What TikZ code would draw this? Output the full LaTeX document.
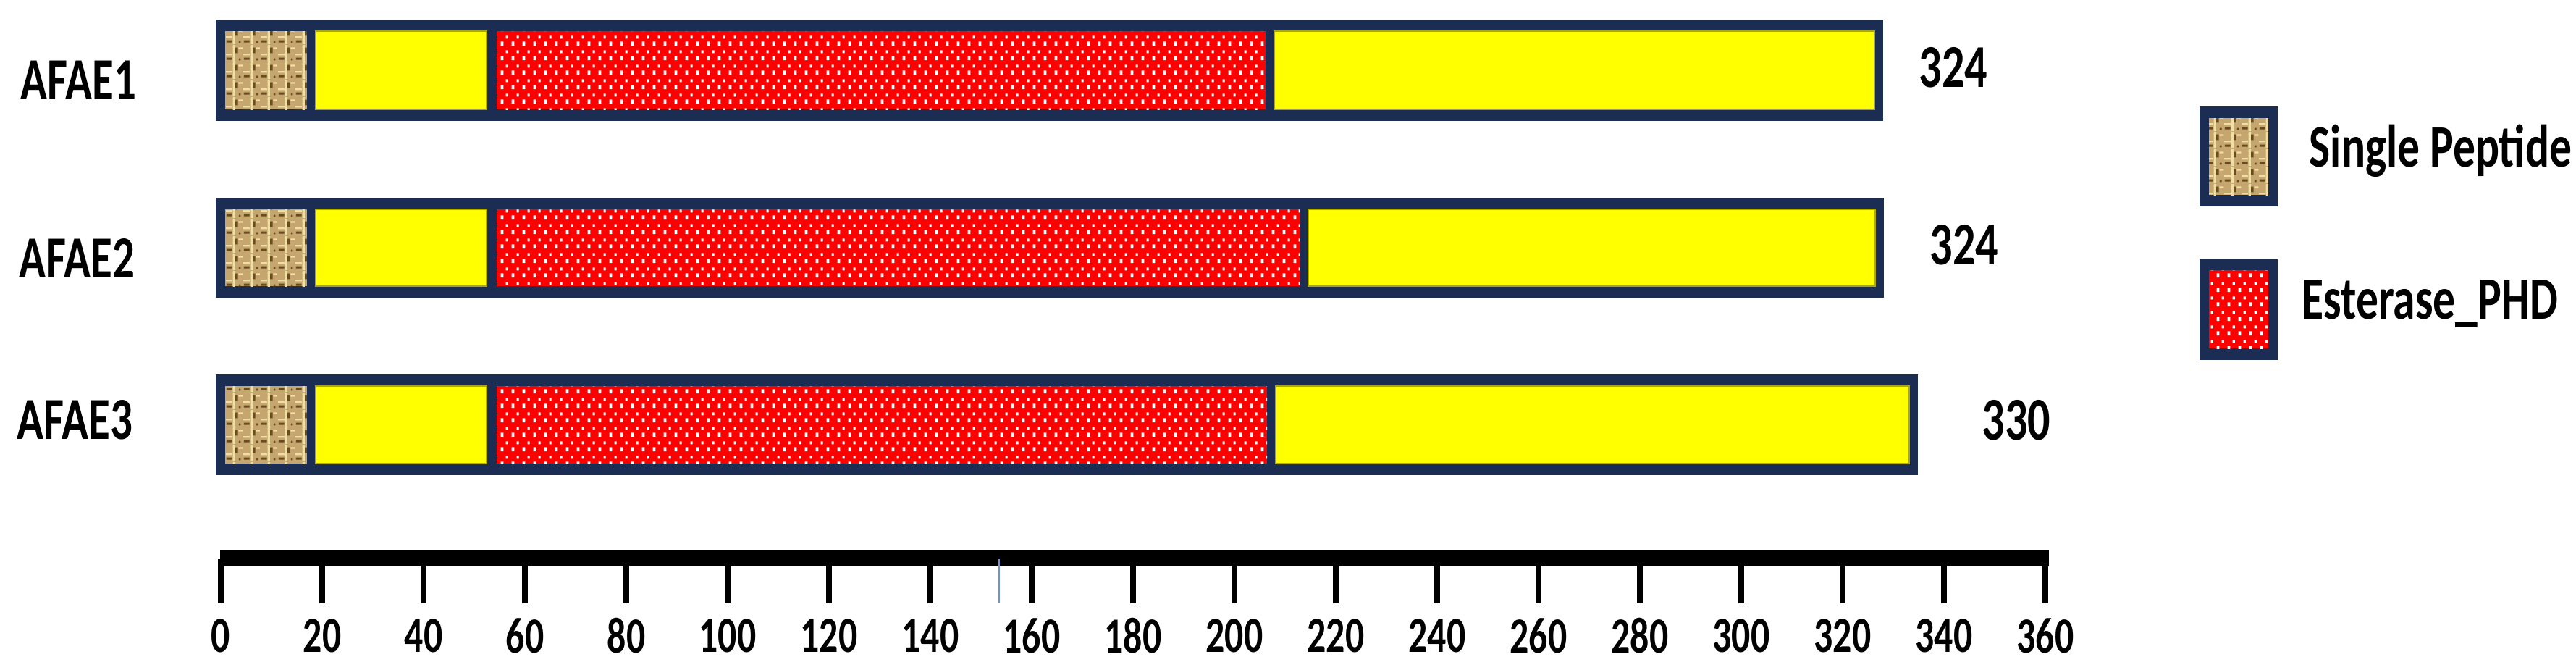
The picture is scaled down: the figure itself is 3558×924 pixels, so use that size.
\documentclass[tikz,border=0pt]{standalone}
\usepackage{fontspec}
\newfontfamily\lab{Carlito}[FakeStretch=0.74]
\usetikzlibrary{patterns}
\definecolor{navy}{RGB}{27,45,82}
\definecolor{ylw}{RGB}{255,255,0}
\definecolor{ylwedge}{RGB}{170,165,20}
\definecolor{redd}{RGB}{255,0,0}
\definecolor{tanbase}{RGB}{196,166,110}
\definecolor{tandark}{RGB}{105,75,32}
\definecolor{tanlight}{RGB}{240,222,165}
\definecolor{tickblue}{RGB}{110,145,215}
\pgfdeclarepatternformonly{whitedots}{\pgfpointorigin}{\pgfqpoint{3.75pt}{5pt}}{\pgfqpoint{3.75pt}{5pt}}{%
  \pgfpathrectangle{\pgfqpoint{0.4pt}{0.5pt}}{\pgfqpoint{1.0pt}{1.5pt}}%
  \pgfpathrectangle{\pgfqpoint{2.3pt}{3.0pt}}{\pgfqpoint{0.8pt}{1.1pt}}%
  \pgfusepath{fill}}
\pgfdeclarepatternformonly{burlapdark}{\pgfpointorigin}{\pgfqpoint{6pt}{6pt}}{\pgfqpoint{6pt}{6pt}}{%
  \pgfpathrectangle{\pgfqpoint{0.2pt}{0.6pt}}{\pgfqpoint{2.0pt}{0.8pt}}%
  \pgfpathrectangle{\pgfqpoint{3.4pt}{3.0pt}}{\pgfqpoint{0.9pt}{2.0pt}}%
  \pgfpathrectangle{\pgfqpoint{4.6pt}{0.4pt}}{\pgfqpoint{0.7pt}{0.7pt}}%
  \pgfusepath{fill}}
\pgfdeclarepatternformonly{burlaplight}{\pgfpointorigin}{\pgfqpoint{6pt}{6pt}}{\pgfqpoint{6pt}{6pt}}{%
  \pgfpathrectangle{\pgfqpoint{2.5pt}{0pt}}{\pgfqpoint{0.8pt}{6pt}}%
  \pgfpathrectangle{\pgfqpoint{0pt}{2.2pt}}{\pgfqpoint{2.3pt}{0.6pt}}%
  \pgfpathrectangle{\pgfqpoint{4.5pt}{4.5pt}}{\pgfqpoint{1.5pt}{0.6pt}}%
  \pgfusepath{fill}}
\tikzset{
  barframe/.style={fill=navy},
  tanseg/.style={fill=tanbase,
    postaction={pattern=burlapdark, pattern color=tandark},
    postaction={pattern=burlaplight, pattern color=tanlight}},
  redseg/.style={fill=redd, postaction={pattern=whitedots, pattern color=white}},
  ylwseg/.style={fill=ylw, draw=ylwedge, line width=0.5pt},
  namelbl/.style={inner sep=0pt, anchor=west, font=\lab\bfseries\fontsize{20.6pt}{24pt}\selectfont},
  lenlbl/.style={inner sep=0pt, anchor=west, font=\lab\bfseries\fontsize{21pt}{24pt}\selectfont},
  axlbl/.style={inner sep=0pt, font=\lab\bfseries\fontsize{17.5pt}{20pt}\selectfont},
  leglbl/.style={inner sep=0pt, anchor=base west, font=\lab\bfseries\fontsize{20.8pt}{24pt}\selectfont},
  tickline/.style={line width=2pt, black},
}
% #1 outer top, #2 outer bottom, #3 inner top, #4 inner bottom, #5 red end, #6 outer right
\newcommand\domainbar[6]{%
  \fill[barframe] (298,#1) rectangle (#6,#2);
  \path[tanseg] (311,#3) rectangle (424,#4);
  \path[ylwseg] (436,#3) rectangle (672,#4);
  \path[redseg] (686,#3) rectangle (#5,#4);
  \path[ylwseg] (#5+12,#3) rectangle (#6-12,#4);
}
\begin{document}
\begin{tikzpicture}[x=0.25pt, y=-0.25pt]
\useasboundingbox (0,0) rectangle (3558,924);
\fill[white] (0,0) rectangle (3558,924);

% bars
\domainbar{27}{167}{43}{151}{1748}{2601}
\domainbar{273}{411}{289}{395}{1795}{2602}
\domainbar{517}{656}{533}{640}{1750}{2649}

% names
\node[namelbl] (n1) at (28,111) {AFAE1};
\node[namelbl] (n2) at (26,356) {AFAE2};
\node[namelbl] (n3) at (23,580) {AFAE3};

% lengths
\node[lenlbl] (l1) at (2650,93) {324};
\node[lenlbl] (l2) at (2665,338) {324};
\node[lenlbl] (l3) at (2737,580) {330};

% legend
\fill[barframe] (3038,147) rectangle (3146,285);
\path[tanseg] (3051,163) rectangle (3133,269);
\node[leglbl] (lg1) at (3189,230) {Single Peptide};
\fill[barframe] (3038,358) rectangle (3146,497);
\path[redseg] (3051,373) rectangle (3133,481);
\node[leglbl] (lg2) at (3179,440) {Esterase\_PHD};

% axis
\fill[black] (304,760) rectangle (2830,781);
\foreach \k [evaluate=\k as \v using int(\k*20)] in {0,...,18} {
  \coordinate (t\k) at (305+140*\k,772);
  \draw[tickline] (t\k) -- ++(0,61);
  \node[axlbl] (a\k) at (305+140*\k,878) {\v};
}
\draw[tickblue, line width=0.6pt] (1380,772) -- (1380,832);
\end{tikzpicture}
\end{document}
